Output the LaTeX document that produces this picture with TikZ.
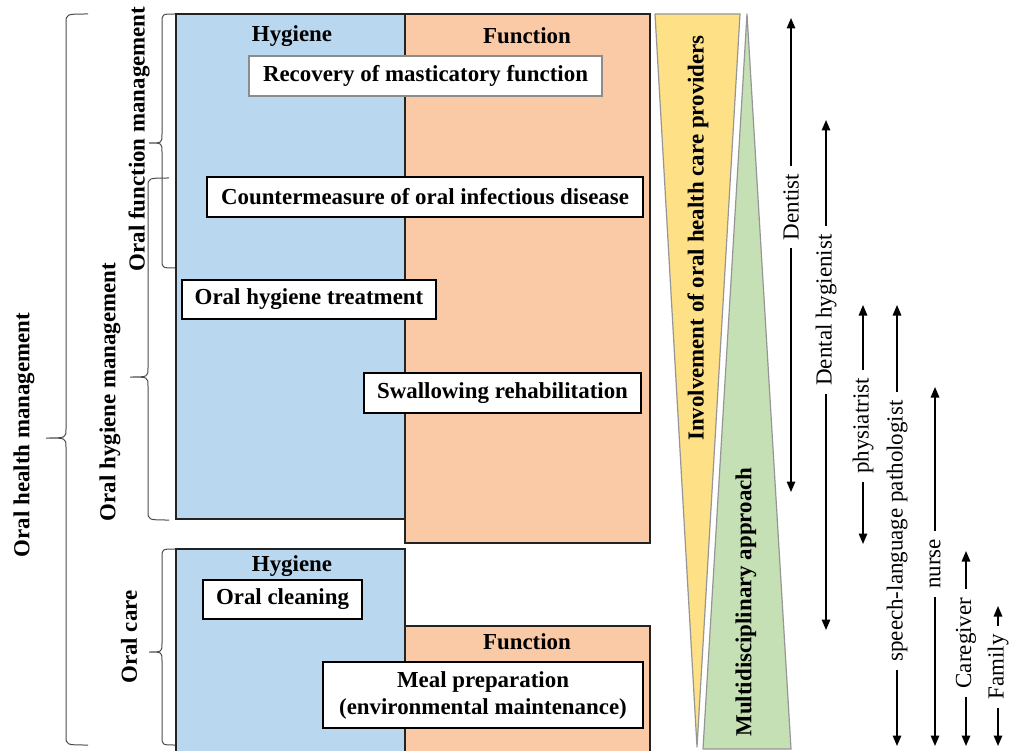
\documentclass[tikz,border=0pt]{standalone}
\usepackage{fontspec}
\setmainfont{Liberation Serif}
\usetikzlibrary{arrows.meta}
\definecolor{hyg}{RGB}{185,216,240}
\definecolor{fun}{RGB}{250,201,166}
\definecolor{yel}{RGB}{254,224,135}
\definecolor{grn}{RGB}{197,224,180}
\definecolor{framec}{RGB}{35,35,35}
\definecolor{tric}{RGB}{150,150,150}
% brace: xe, xv, xt, y1, ym, y2
\newcommand\ohmbrace[6]{%
  \draw[brc] (#1,#4) .. controls (#2,#4) .. (#2,#4+9) -- (#2,#5-9)
    .. controls (#2,#5) .. (#3,#5) .. controls (#2,#5) .. (#2,#5+9)
    -- (#2,#6-9) .. controls (#2,#6) .. (#1,#6);}
\begin{document}
\begin{tikzpicture}[x=1pt,y=-1pt,
  area/.style={draw=framec,line width=1.8pt},
  item/.style={draw=black,fill=white,line width=1.4pt,font=\bfseries\fontsize{22.9}{27}\selectfont,inner sep=0pt,align=center},
  head/.style={font=\bfseries\fontsize{22.9}{27}\selectfont},
  side/.style={font=\bfseries\fontsize{22.9}{27}\selectfont,rotate=90},
  role/.style={font=\fontsize{23}{27}\selectfont,rotate=90,inner xsep=8pt},
  brc/.style={draw=black!70,line width=1pt},
  arr/.style={line width=1.5pt,-{Triangle[width=8.5pt,length=10.5pt]}},
  trg/.style={draw=tric,line width=1.2pt,line join=round}]
\clip (0,0) rectangle (1019,751);
\fill[white] (0,0) rectangle (1019,751);

% main areas
\draw[area,fill=hyg] (176,14) rectangle (405,519);
\draw[area,fill=fun] (405,14) rectangle (650,543);
\draw[area,fill=hyg] (176,549) rectangle (405,770);
\draw[area,fill=fun] (405,626) rectangle (650,770);

% headers
\node[head] (h1) at (292,36) {Hygiene};
\node[head] (f1) at (527,36) {Function};
\node[head] (h2) at (292,566) {Hygiene};
\node[head] (f2) at (527,642) {Function};

% items
\node[item,draw=black!45,line width=1.2pt,minimum width=353pt,minimum height=40pt] (rec) at (425.5,76) {Recovery of masticatory function};
\node[item,minimum width=436pt,minimum height=40pt] (cnt) at (425,197) {Countermeasure of oral infectious disease};
\node[item,minimum width=254pt,minimum height=39pt] (oht) at (309,299.5) {Oral hygiene treatment};
\node[item,minimum width=277pt,minimum height=40pt] (swr) at (502.5,393) {Swallowing rehabilitation};
\node[item,minimum width=159pt,minimum height=39pt] (ocl) at (282.5,599.5) {Oral cleaning};
\node[item,minimum width=320pt,minimum height=66pt] (mea) at (483,695) {Meal preparation\\(environmental maintenance)};

% triangles
\draw[trg,fill=yel] (655,14) -- (740,14) -- (697,747) -- cycle;
\draw[trg,fill=grn] (747,14) -- (791,749) -- (703,749) -- cycle;
\node[side] (inv) at (698,238) {Involvement of oral health care providers};
\node[side] (mul) at (746,602) {Multidisciplinary approach};

% left labels and braces
\node[side] (ohm) at (24,435) {Oral health management};
\node[side] (ofm) at (139,139) {Oral function management};
\node[side] (oyg) at (110,392) {Oral hygiene management};
\node[side] (oca) at (129,637) {Oral care};
\ohmbrace{88}{66}{46}{14}{438}{745}
\ohmbrace{175}{162}{149}{14}{143}{268}
\ohmbrace{169}{148}{130}{178}{377}{520}
\ohmbrace{175}{162}{149}{549}{652}{745}

% roles
\node[role] (den) at (791,207) {Dentist};
\coordinate (dent) at (791,18); \coordinate (denb) at (791,492);
\draw[arr] (den.east) -- (dent); \draw[arr] (den.west) -- (denb);

\node[role] (dhy) at (826,310) {Dental hygienist};
\coordinate (dhyt) at (826,120); \coordinate (dhyb) at (826,630);
\draw[arr] (dhy.east) -- (dhyt); \draw[arr] (dhy.west) -- (dhyb);

\node[role] (phy) at (863,426) {physiatrist};
\coordinate (phyt) at (863,305); \coordinate (phyb) at (863,544);
\draw[arr] (phy.east) -- (phyt); \draw[arr] (phy.west) -- (phyb);

\node[role] (slp) at (897,531) {speech-language pathologist};
\coordinate (slpt) at (897,305); \coordinate (slpb) at (897,746);
\draw[arr] (slp.east) -- (slpt); \draw[arr] (slp.west) -- (slpb);

\node[role] (nur) at (935,564) {nurse};
\coordinate (nurt) at (935,387); \coordinate (nurb) at (935,746);
\draw[arr] (nur.east) -- (nurt); \draw[arr] (nur.west) -- (nurb);

\node[role] (car) at (966,643) {Caregiver};
\coordinate (cart) at (966,551); \coordinate (carb) at (966,746);
\draw[arr] (car.east) -- (cart); \draw[arr] (car.west) -- (carb);

\node[role] (fam) at (998,667) {Family};
\coordinate (famt) at (998,606); \coordinate (famb) at (998,746);
\draw[arr] (fam.east) -- (famt); \draw[arr] (fam.west) -- (famb);
\end{tikzpicture}
\end{document}
